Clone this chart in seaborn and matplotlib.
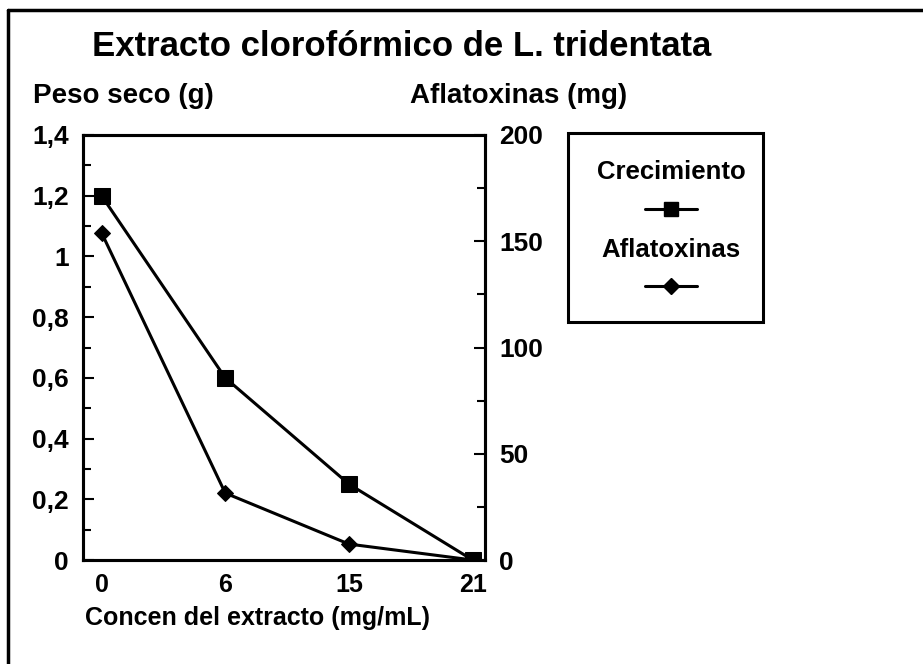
import numpy as np
import matplotlib
matplotlib.use("Agg")
import matplotlib.pyplot as plt
from matplotlib.lines import Line2D
from matplotlib.ticker import MultipleLocator, FuncFormatter
import pandas as pd
import seaborn as sns

# data
conc = ["0", "6", "15", "21"]
crecimiento = [1.2, 0.6, 0.25, 0.0]      # Peso seco (g)
aflatoxinas = [154, 31.5, 7.5, 0.0]      # Aflatoxinas (mg)

df = pd.DataFrame({"conc": conc, "pos": np.arange(len(conc)),
                   "crec": crecimiento, "afla": aflatoxinas})

sns.set_style("white")
plt.rcParams["font.family"] = ["Liberation Sans Narrow", "Liberation Sans", "DejaVu Sans"]
plt.rcParams["font.weight"] = "bold"
plt.rcParams["text.color"] = "black"
plt.rcParams["xtick.color"] = "black"
plt.rcParams["ytick.color"] = "black"

fig = plt.figure(figsize=(9.23, 6.64), dpi=100)
ax = fig.add_axes([0.0899, 0.1566, 0.4356, 0.6401])
ax2 = ax.twinx()

sns.lineplot(data=df, x="pos", y="crec", ax=ax, color="black", linewidth=2.2,
             marker="s", markersize=12, markeredgecolor="black")
sns.lineplot(data=df, x="pos", y="afla", ax=ax2, color="black", linewidth=2.2,
             marker="D", markersize=8, markeredgecolor="black")

ax.set_xlim(-0.15, 3.1)
ax.set_ylim(0, 1.4)
ax2.set_ylim(0, 200)
ax.set_xticks(df["pos"])
ax.set_xticklabels(conc)

ax.yaxis.set_major_locator(MultipleLocator(0.2))
ax.yaxis.set_minor_locator(MultipleLocator(0.1))
ax.yaxis.set_major_formatter(FuncFormatter(lambda v, p: f"{v:.1f}".rstrip("0").rstrip(".").replace(".", ",")))
ax2.yaxis.set_major_locator(MultipleLocator(50))
ax2.yaxis.set_minor_locator(MultipleLocator(25))

for a in (ax, ax2):
    for s in a.spines.values():
        s.set_linewidth(2.2)
        s.set_color("black")
ax.tick_params(axis="y", which="major", direction="in", length=8, width=1.5,
               labelsize=19, pad=10)
ax.tick_params(axis="x", which="major", direction="in", length=8, width=1.5,
               labelsize=18, pad=9)
ax.tick_params(axis="y", which="minor", direction="in", length=6, width=1.5, left=True)
ax2.tick_params(axis="y", which="major", direction="in", length=8, width=1.5,
                labelsize=19, pad=10)
ax2.tick_params(axis="y", which="minor", direction="in", length=6, width=1.5, right=True)
for lbl in ax.get_xticklabels() + ax.get_yticklabels() + ax2.get_yticklabels():
    lbl.set_fontweight("bold")

ax.set_xlabel("")
ax.set_ylabel("")
ax2.set_ylabel("")

fig.text(0.1, 0.93, "Extracto clorofórmico de L. tridentata", fontsize=25,
         fontweight="bold", va="center", ha="left")
fig.text(0.036, 0.855, "Peso seco (g)", fontsize=20, fontweight="bold", va="center")
fig.text(0.444, 0.855, "Aflatoxinas (mg)", fontsize=20, fontweight="bold", va="center")
fig.text(0.092, 0.07, "Concen del extracto (mg/mL)", fontsize=18, fontweight="bold",
         va="center")

# legend box: label above its sample
x0, x1 = 568 / 923, 763 / 923
y0, y1 = 1 - 322 / 664, 1 - 133 / 664
fig.patches.append(plt.Rectangle((x0, y0), x1 - x0, y1 - y0, transform=fig.transFigure,
                                 fill=False, edgecolor="black", linewidth=2.2))
xc = (x0 + x1) / 2 + 0.006
fig.text(xc, 1 - 172 / 664, "Crecimiento", fontsize=18.5, fontweight="bold",
         ha="center", va="center")
fig.text(xc, 1 - 250 / 664, "Aflatoxinas", fontsize=18.5, fontweight="bold",
         ha="center", va="center")
for yy, mk, ms in [(209, "s", 10), (286, "D", 8)]:
    fig.add_artist(Line2D([xc - 0.028, xc + 0.028], [1 - yy / 664] * 2, color="black",
                          linewidth=2.2, transform=fig.transFigure))
    fig.add_artist(Line2D([xc], [1 - yy / 664], color="black", marker=mk, markersize=ms,
                          transform=fig.transFigure))

# outer frame of the scanned figure
fig.add_artist(Line2D([8 / 923, 1], [1 - 10 / 664] * 2, color="black", linewidth=2.5,
                      transform=fig.transFigure))
fig.add_artist(Line2D([8 / 923] * 2, [0, 1 - 10 / 664], color="black", linewidth=2.5,
                      transform=fig.transFigure))

fig.savefig("out.png", dpi=100)
